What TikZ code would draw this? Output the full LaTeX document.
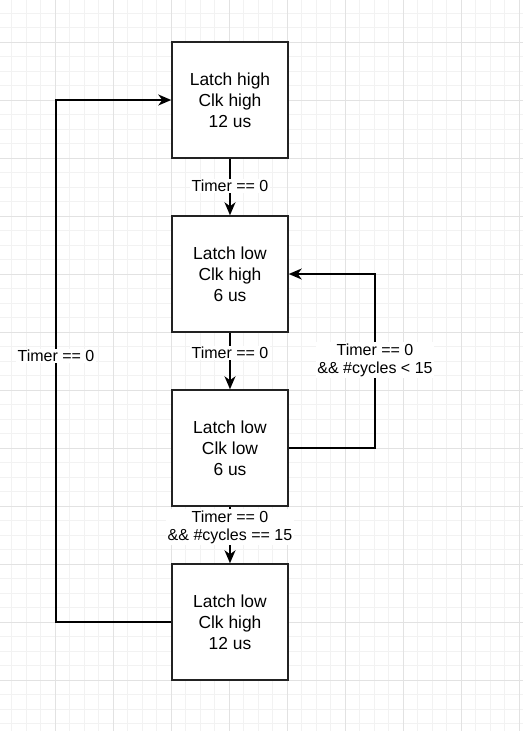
\documentclass[tikz,border=0pt]{standalone}
\usepackage{fontspec}
\setmainfont{Liberation Sans}
\usetikzlibrary{arrows.meta}
\definecolor{gridminor}{HTML}{F2F2F2}
\definecolor{gridmajor}{HTML}{E2E2E2}
\definecolor{boxline}{HTML}{222222}
\tikzset{
  statebox/.style={draw=boxline, line width=1.5pt, fill=white, minimum width=116pt, minimum height=116pt, inner sep=0pt, align=center, font=\fontsize{17.4}{21}\selectfont},
  conn/.style={draw=black, line width=1.5pt, -{Stealth[length=13pt,width=11pt,inset=4pt]}},
  lbl/.style={fill=white, inner sep=1.5pt, align=center, font=\fontsize{16}{18}\selectfont}
}
\begin{document}
\begin{tikzpicture}[x=1pt,y=-1pt]
\useasboundingbox (0,0) rectangle (523,731);
\fill[white] (0,0) rectangle (523,731);
% grid
\foreach \i in {-3,...,32} {
  \pgfmathsetmacro\xx{55+14.5*\i}
  \draw[gridminor, line width=0.8pt] (\xx,0) -- (\xx,731);
}
\foreach \j in {-2,...,47} {
  \pgfmathsetmacro\yy{42+14.5*\j}
  \draw[gridminor, line width=0.8pt] (0,\yy) -- (523,\yy);
}
\foreach \i in {-1,...,8} {
  \pgfmathsetmacro\xx{55+58*\i}
  \draw[gridmajor, line width=0.9pt] (\xx,0) -- (\xx,731);
}
\foreach \j in {-1,...,12} {
  \pgfmathsetmacro\yy{42+58*\j}
  \draw[gridmajor, line width=0.9pt] (0,\yy) -- (523,\yy);
}
% boxes
\node[statebox] (b1) at (230,100) {Latch high\\Clk high\\12 us};
\node[statebox] (b2) at (230,274) {Latch low\\Clk high\\6 us};
\node[statebox] (b3) at (230,448) {Latch low\\Clk low\\6 us};
\node[statebox] (b4) at (230,622) {Latch low\\Clk high\\12 us};
\coordinate (lc) at (56,622);
\coordinate (rc) at (375,448);
% connectors
\draw[conn] (b1) -- (b2);
\draw[conn] (b2) -- (b3);
\draw[conn] (b3) -- (b4);
\draw[conn] (b4.west) -- (lc) |- (b1.west);
\draw[conn] (b3.east) -- (rc) |- (b2.east);
% labels
\node[lbl] (l1) at (230,186) {Timer == 0};
\node[lbl] (l2) at (230,353) {Timer == 0};
\node[lbl] (l3) at (230,527) {Timer == 0\\\&\& \#cycles == 15};
\node[lbl] (l4) at (375,360) {Timer == 0\\\&\& \#cycles < 15};
\node[lbl] (l5) at (56,356) {Timer == 0};
\end{tikzpicture}
\end{document}
